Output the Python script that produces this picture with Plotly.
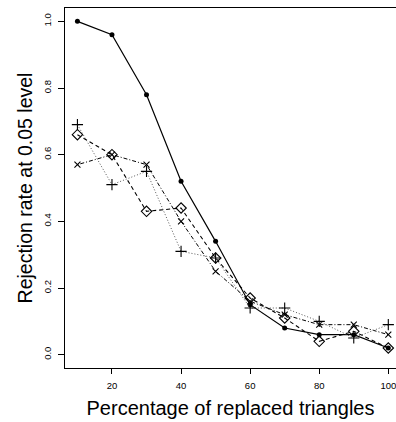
import plotly.graph_objects as go

pct = [10, 20, 30, 40, 50, 60, 70, 80, 90, 100]
s_dot = [1.00, 0.96, 0.78, 0.52, 0.34, 0.15, 0.08, 0.06, 0.06, 0.02]
s_diamond = [0.66, 0.60, 0.43, 0.44, 0.29, 0.17, 0.11, 0.04, 0.07, 0.02]
s_x = [0.57, 0.60, 0.57, 0.40, 0.25, 0.16, 0.12, 0.09, 0.09, 0.06]
s_plus = [0.69, 0.51, 0.55, 0.31, 0.29, 0.14, 0.14, 0.10, 0.05, 0.09]

x_ticks = [20, 40, 60, 80, 100]
y_ticks = [0.0, 0.2, 0.4, 0.6, 0.8, 1.0]

FONT = "Liberation Sans, Arial, sans-serif"

fig = go.Figure()
fig.add_trace(go.Scatter(x=pct, y=s_dot, mode="lines+markers",
                         line=dict(color="black", width=1.2, dash="solid"),
                         marker=dict(symbol="circle", size=5, color="black"),
                         showlegend=False))
fig.add_trace(go.Scatter(x=pct, y=s_diamond, mode="lines+markers",
                         line=dict(color="black", width=1.1, dash="4px,3px"),
                         marker=dict(symbol="diamond-open", size=8, color="black",
                                     line=dict(width=1.1, color="black")),
                         showlegend=False))
fig.add_trace(go.Scatter(x=pct, y=s_x, mode="lines+markers",
                         line=dict(color="black", width=1, dash="1px,2px,4px,2px"),
                         marker=dict(symbol="x-thin", size=6,
                                     line=dict(width=1.1, color="black")),
                         showlegend=False))
fig.add_trace(go.Scatter(x=pct, y=s_plus, mode="lines+markers",
                         line=dict(color="#555555", width=1, dash="1px,2px"),
                         marker=dict(symbol="cross-thin", size=8,
                                     line=dict(width=1.1, color="black")),
                         showlegend=False))

fig.update_layout(
    width=396, height=422,
    margin=dict(l=65, r=0, t=8, b=54),
    paper_bgcolor="white", plot_bgcolor="white",
    font=dict(family=FONT, color="black"),
    xaxis=dict(range=[6.4, 102.23], tickvals=x_ticks, ticktext=[str(v) for v in x_ticks],
               showgrid=False, zeroline=False, showline=True, linecolor="black",
               linewidth=1, mirror=True, ticks="outside", ticklen=5, tickcolor="black",
               ticklabeloverflow="allow", ticklabelstandoff=4,
               tickfont=dict(size=9.5, family=FONT),
               title=dict(text="Percentage of replaced triangles",
                          font=dict(size=20, family=FONT), standoff=10)),
    yaxis=dict(range=[-0.04, 1.04], tickvals=y_ticks,
               ticktext=["%.1f" % v for v in y_ticks],
               showgrid=False, zeroline=False, showline=True, linecolor="black",
               linewidth=1, mirror=False, ticks="outside", ticklen=6, tickcolor="black",
               ticklabelstandoff=3,
               tickangle=-90, tickfont=dict(size=9.5, family=FONT),
               title=dict(text="Rejection rate at 0.05 level",
                          font=dict(size=19.5, family=FONT), standoff=4)),
)

fig.write_html("out.html")
